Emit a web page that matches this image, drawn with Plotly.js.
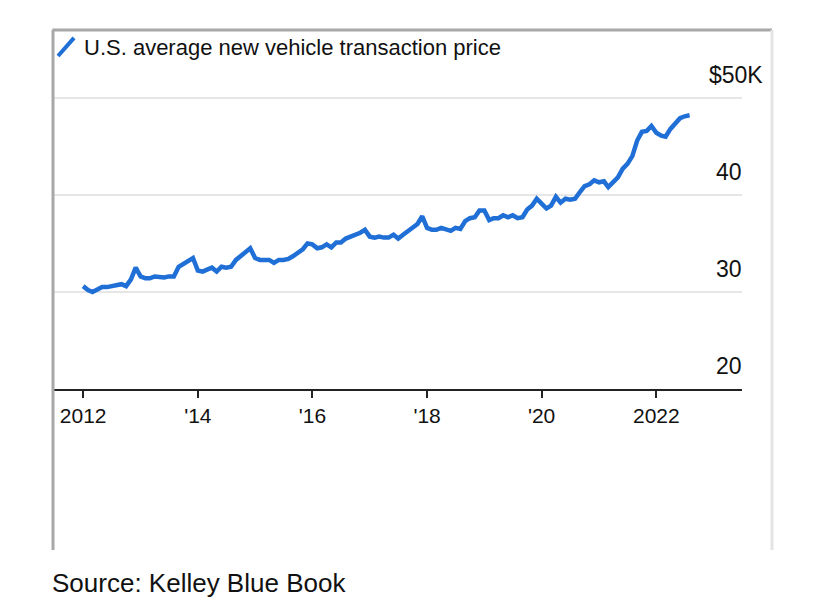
<!DOCTYPE html>
<html>
<head>
<meta charset="utf-8">
<script src="https://cdn.plot.ly/plotly-3.0.1.min.js"></script>
<style>
  html, body { margin: 0; padding: 0; background: #ffffff; }
  #chart { width: 828px; height: 616px; }
</style>
</head>
<body>
<div id="chart"></div>
<script>
// Monthly U.S. average new vehicle transaction price ($K), Jan 2012 - Aug 2022
const startYear = 2012;
const prices = [
  30.6, 30.2, 30.0, 30.3, 30.5, 30.5, 30.6, 30.7, 30.8, 30.6, 31.3, 32.5,
  31.6, 31.4, 31.4, 31.6, 31.5, 31.5, 31.6, 31.6, 32.6, 32.9, 33.1, 33.5,
  32.2, 32.1, 32.3, 32.5, 32.1, 32.6, 32.5, 32.6, 33.3, 33.7, 34.0, 34.5,
  33.5, 33.3, 33.3, 33.3, 33.0, 33.3, 33.3, 33.4, 33.7, 34.0, 34.4, 35.0,
  34.9, 34.5, 34.6, 34.9, 34.6, 35.1, 35.1, 35.5, 35.7, 35.8, 36.1, 36.4,
  35.7, 35.6, 35.7, 35.6, 35.6, 35.9, 35.5, 35.9, 36.3, 36.6, 37.0, 37.8,
  36.6, 36.4, 36.4, 36.6, 36.5, 36.3, 36.6, 36.5, 37.3, 37.6, 37.7, 38.4,
  38.4, 37.4, 37.6, 37.6, 37.9, 37.7, 37.9, 37.6, 37.7, 38.5, 38.9, 39.6,
  39.1, 38.6, 38.9, 39.8, 39.2, 39.6, 39.5, 39.6, 40.3, 40.9, 41.1, 41.5,
  41.3, 41.4, 40.8, 41.4, 41.8, 42.7, 43.2, 44.0, 45.6, 46.5, 46.6, 47.1,
  46.4, 46.1, 46.0, 46.8, 47.3, 47.9, 48.1, 48.2
];
const months = prices.map((_, i) => {
  const y = startYear + Math.floor(i / 12);
  const m = (i % 12) + 1;
  return y + '-' + String(m).padStart(2, '0') + '-01';
});

const xTickVals = ['2012-01-01', '2014-01-01', '2016-01-01', '2018-01-01', '2020-01-01', '2022-01-01'];
const xTickText = ['2012', "'14", "'16", "'18", "'20", '2022'];
const yTickVals = [20, 30, 40, 50];
const yTickText = ['20', '30', '40', '$50K'];

const seriesName = 'U.S. average new vehicle transaction price';
const sourceText = 'Source: Kelley Blue Book';

const FONT = '"Liberation Sans", Arial, Helvetica, sans-serif';
const BLUE = '#1f6fd6';

const trace = {
  x: months,
  y: prices,
  type: 'scatter',
  mode: 'lines',
  name: seriesName,
  line: { color: BLUE, width: 4.5, shape: 'linear' },
  showlegend: false,
  hoverinfo: 'skip'
};

const yAnnotations = yTickVals.map((v, i) => ({
  x: 1, xref: 'paper', y: v, yref: 'y',
  text: yTickText[i], showarrow: false,
  xanchor: 'right', yanchor: 'bottom',
  xshift: yTickText[i].endsWith('K') ? 23 : 2,
  yshift: 8,
  font: { family: FONT, size: 23, color: '#111111' }
}));

const layout = {
  width: 828,
  height: 616,
  margin: { l: 53, r: 86, t: 93, b: 227, pad: 0 },
  paper_bgcolor: '#ffffff',
  plot_bgcolor: '#ffffff',
  showlegend: false,
  xaxis: {
    type: 'date',
    range: ['2011-06-23', '2023-07-01'],
    tickvals: xTickVals,
    ticktext: xTickText,
    ticks: 'outside',
    ticklen: 7,
    tickwidth: 2,
    tickcolor: '#222222',
    showgrid: false,
    zeroline: false,
    showline: true,
    linecolor: '#222222',
    linewidth: 2,
    tickfont: { family: FONT, size: 21, color: '#111111' },
    fixedrange: true
  },
  yaxis: {
    range: [20, 50.5],
    tickvals: yTickVals,
    showticklabels: false,
    showgrid: true,
    gridcolor: '#e6e6e6',
    gridwidth: 2,
    zeroline: false,
    showline: false,
    ticks: '',
    fixedrange: true
  },
  shapes: [
    { type: 'line', xref: 'paper', yref: 'paper', x0: -0.001, x1: 1.0435, y0: 1.2128, y1: 1.2128,
      line: { color: '#a8a8a8', width: 3 } },
    { type: 'line', xref: 'paper', yref: 'paper', x0: 0, x1: 0, y0: 1.2128, y1: -0.5439,
      line: { color: '#a8a8a8', width: 3 } },
    { type: 'line', xref: 'paper', yref: 'paper', x0: 1.0435, x1: 1.0435, y0: 1.2128, y1: -0.5439,
      line: { color: '#e4e4e4', width: 3 } },
    { type: 'line', xref: 'paper', yref: 'paper', x0: 0.0073, y0: 1.125, x1: 0.0305, y1: 1.186,
      line: { color: BLUE, width: 4 } }
  ],
  annotations: [
    {
      x: 0.0421, xref: 'paper', y: 1.155, yref: 'paper',
      text: seriesName, showarrow: false, xanchor: 'left', yanchor: 'middle',
      font: { family: FONT, size: 22, color: '#111111' }
    },
    {
      x: 0, xref: 'paper', y: -0.655, yref: 'paper', xshift: -3,
      text: sourceText, showarrow: false, xanchor: 'left', yanchor: 'middle',
      font: { family: FONT, size: 26, color: '#111111' }
    }
  ].concat(yAnnotations)
};

Plotly.newPlot('chart', [trace], layout, { displayModeBar: false, staticPlot: true });
</script>
</body>
</html>
